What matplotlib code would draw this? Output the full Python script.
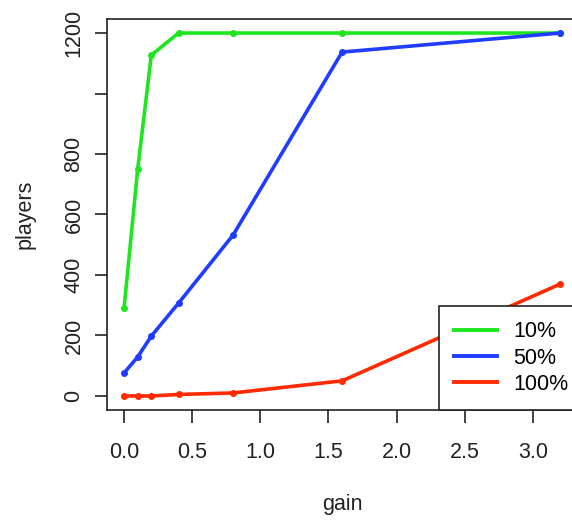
import matplotlib
matplotlib.use("Agg")
import matplotlib.pyplot as plt

# gain values sampled for every series
gain = [0, 0.1, 0.2, 0.4, 0.8, 1.6, 3.2]

# players reached
players_10 = [290, 750, 1127, 1200, 1200, 1200, 1200]
players_50 = [76, 129, 198, 307, 532, 1137, 1200]
players_100 = [0, 0, 0, 5, 10, 50, 370]

labels = ["10%", "50%", "100%"]
colors = ["#1ee61e", "#1f3cff", "#ff2a00"]

xticks = [0.0, 0.5, 1.0, 1.5, 2.0, 2.5, 3.0]
xticklabels = ["0.0", "0.5", "1.0", "1.5", "2.0", "2.5", "3.0"]
yticks = [0, 200, 400, 600, 800, 1000, 1200]
yticklabels = ["0", "200", "400", "600", "800", "", "1200"]

plt.rcParams["font.family"] = ["Liberation Sans", "DejaVu Sans"]
plt.rcParams["font.size"] = 15.5

fig = plt.figure(figsize=(5.72, 5.20), dpi=100)
# R-style plot region; the right edge runs past the image like the original
ax = fig.add_axes([0.1864, 0.2106, 0.8234, 0.7538])

for ys, col, lab in zip([players_10, players_50, players_100], colors, labels):
    ax.plot(gain, ys, color=col, lw=2.6, marker="o", ms=4, label=lab)

ax.set_xlim(-0.128, 3.328)
ax.set_ylim(-48, 1248)
ax.set_xticks(xticks)
ax.set_xticklabels(xticklabels)
ax.set_yticks(yticks)
ax.set_yticklabels(yticklabels, rotation=90, va="center")
ax.tick_params(axis="both", length=9, width=1.2, color="#222222", labelcolor="#222222")
ax.tick_params(axis="x", pad=14)
ax.tick_params(axis="y", pad=7)
for s in ax.spines.values():
    s.set_linewidth(1.2)
    s.set_color("#222222")

ax.set_xlabel("gain", labelpad=22, color="#222222")
ax.set_ylabel("players", labelpad=20, color="#222222")

leg = ax.legend(loc="lower left", bbox_to_anchor=(439 / 572, 1 - 410 / 520),
                bbox_transform=fig.transFigure, borderaxespad=0,
                fancybox=False, framealpha=1, edgecolor="#222222",
                handlelength=2.0, handletextpad=0.75, borderpad=0.7,
                labelspacing=0.25)
leg.get_frame().set_linewidth(1.2)
for h in leg.get_lines():
    h.set_marker("")
    h.set_linewidth(2.8)

fig.savefig("out.png", dpi=100)
